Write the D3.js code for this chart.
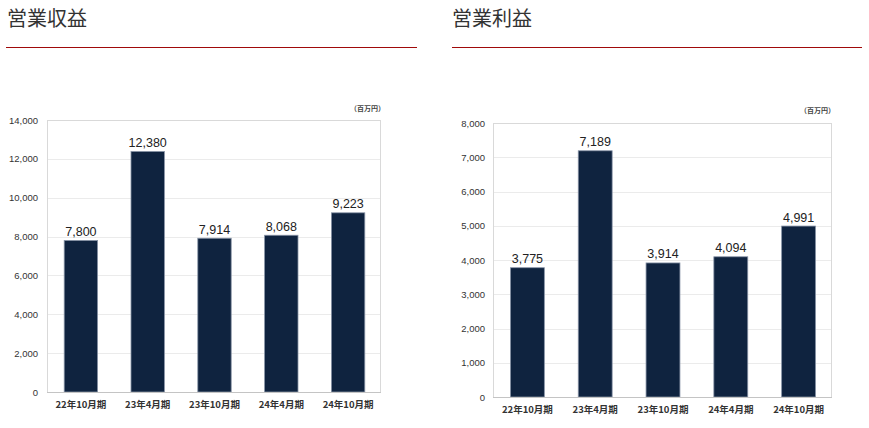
<!DOCTYPE html>
<html><head><meta charset="utf-8">
<script src="https://cdn.jsdelivr.net/npm/d3@7"></script>
<style>
body{margin:0;background:#fff;}
svg{display:block;}
</style></head>
<body>
<svg id="c" width="869" height="428"></svg>
<script>
const categories = ["22年10月期","23年4月期","23年10月期","24年4月期","24年10月期"];
const revenue = [7800, 12380, 7914, 8068, 9223];
const operatingProfit = [3775, 7189, 3914, 4094, 4991];
const revenueTicks = [0,2000,4000,6000,8000,10000,12000,14000];
const profitTicks = [0,1000,2000,3000,4000,5000,6000,7000,8000];
const titles = ["営業収益","営業利益"];
const unitLabel = "（百万円）";

const svg = d3.select("#c");
const latin = "'Liberation Sans', Arial, 'Noto Sans CJK JP', sans-serif";
const cjk = "'Noto Sans CJK JP', sans-serif";
const fmt = d3.format(",");

function panel(cfg){
  const g = svg.append("g");
  g.append("text").attr("x", cfg.tx).attr("y", 26).text(cfg.title)
    .attr("font-family", cjk).attr("font-size", 20).attr("fill", "#333");
  g.append("line").attr("x1", cfg.lx1).attr("x2", cfg.lx2).attr("y1", 47.5).attr("y2", 47.5)
    .attr("stroke", "#a00a0a").attr("stroke-width", 1);

  const x = d3.scaleBand().domain(categories).range([cfg.left, cfg.right]).paddingInner(0.5).paddingOuter(0.25);
  const y = d3.scaleLinear().domain([0, cfg.max]).range([cfg.bottom, cfg.top]);

  g.append("g").selectAll("line").data(cfg.ticks.filter(t => t > 0 && t < cfg.max)).join("line")
    .attr("x1", cfg.left).attr("x2", cfg.right)
    .attr("y1", d => Math.round(y(d)) + 0.5).attr("y2", d => Math.round(y(d)) + 0.5)
    .attr("stroke", "#ebebeb");
  g.append("rect").attr("x", cfg.left + 0.5).attr("y", cfg.top + 0.5)
    .attr("width", cfg.right - cfg.left - 1).attr("height", cfg.bottom - cfg.top)
    .attr("fill", "none").attr("stroke", "#d9d9d9");

  const ya = g.append("g").attr("transform", `translate(${cfg.left},0)`)
    .call(d3.axisLeft(y).tickValues(cfg.ticks).tickFormat(fmt).tickSize(0).tickPadding(cfg.tpad));
  ya.select(".domain").remove();
  ya.selectAll("text").attr("font-family", latin).attr("font-size", 9.5).attr("fill", "#333");

  g.append("g").selectAll("rect").data(cfg.values).join("rect")
    .attr("x", (d,i) => x(categories[i]) + 0.5)
    .attr("y", d => y(d))
    .attr("width", x.bandwidth())
    .attr("height", d => cfg.bottom - y(d))
    .attr("fill", "#0f233f").attr("stroke", "#8793a6").attr("stroke-width", 0.8);

  g.append("line").attr("x1", cfg.left).attr("x2", cfg.right)
    .attr("y1", cfg.bottom + 0.5).attr("y2", cfg.bottom + 0.5).attr("stroke", "#c4c4c4");

  g.append("g").selectAll("text").data(cfg.values).join("text")
    .attr("x", (d,i) => x(categories[i]) + x.bandwidth()/2 + 0.5)
    .attr("y", d => y(d) - 4.5)
    .attr("text-anchor", "middle").text(d => fmt(d))
    .attr("font-family", latin).attr("font-size", 12.5).attr("fill", "#222");

  const xa = g.append("g").attr("transform", `translate(0.5,${cfg.bottom})`)
    .call(d3.axisBottom(x).tickSize(0).tickPadding(cfg.xpad));
  xa.select(".domain").remove();
  xa.selectAll("text").attr("font-family", cjk).attr("font-size", 9.5).attr("font-weight", "bold").attr("fill", "#333");

  g.append("text").attr("x", cfg.ux).attr("y", cfg.uy).attr("text-anchor", "end").text(unitLabel)
    .attr("font-family", cjk).attr("font-size", 7).attr("font-weight", "bold").attr("fill", "#444");
}

panel({title: titles[0], tx: 7, lx1: 6, lx2: 417, left: 47, right: 381, top: 120, bottom: 392,
  max: 14000, ticks: revenueTicks, values: revenue, tpad: 9, xpad: 9, ux: 385, uy: 111});
panel({title: titles[1], tx: 452, lx1: 452, lx2: 862, left: 493, right: 832, top: 123, bottom: 397,
  max: 8000, ticks: profitTicks, values: operatingProfit, tpad: 8, xpad: 9, ux: 835, uy: 113});
</script>
</body></html>
